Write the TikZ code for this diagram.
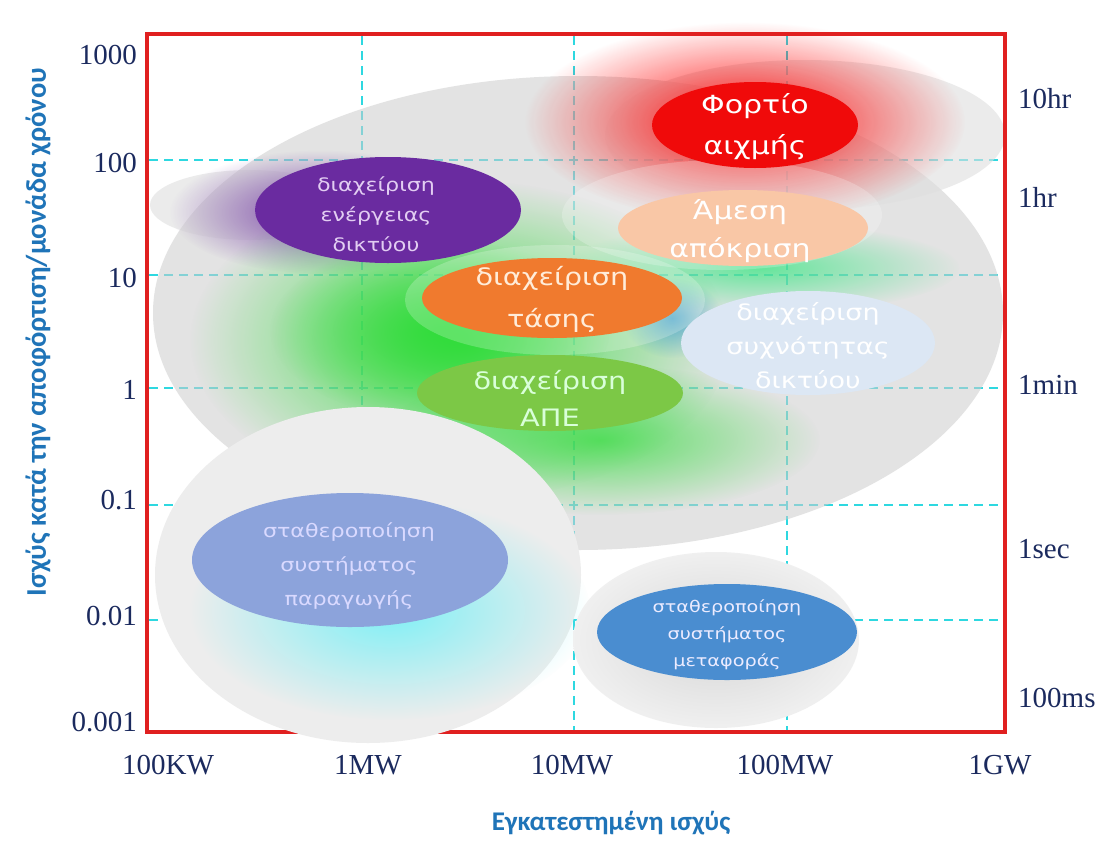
\documentclass[tikz,border=0pt]{standalone}
\usepackage{fontspec}
\setmainfont{Liberation Serif}
\newfontfamily\grfont[FakeStretch=1.2]{DejaVu Sans}
\newfontfamily\axfont{Carlito}
\usetikzlibrary{fadings}
\tikzfading[name=softglow, inner color=transparent!0, outer color=transparent!100]
\definecolor{navy}{HTML}{1B2A5E}
\definecolor{axblue}{HTML}{1F74B8}
\definecolor{gridcyan}{HTML}{2ED8E0}
\definecolor{framered}{HTML}{E02020}
\definecolor{redell}{HTML}{F00A0A}
\definecolor{purpell}{HTML}{6A2BA0}
\definecolor{peachell}{HTML}{F9C7A6}
\definecolor{orangeell}{HTML}{F07A2E}
\definecolor{lblueell}{HTML}{DCE7F4}
\definecolor{greenell}{HTML}{7CC846}
\definecolor{periell}{HTML}{8CA3DB}
\definecolor{blueell}{HTML}{4A8DD0}
\definecolor{glowgreen}{HTML}{30DC3A}
\definecolor{glowcyan}{HTML}{7FF0F6}
\definecolor{lavtext}{HTML}{E2CDF2}
\tikzset{
  gridline/.style={gridcyan, line width=2.4pt, dash pattern=on 9pt off 6pt},
  ticklab/.style={navy, font=\fontsize{29}{29}\selectfont, inner sep=0pt},
  elltext/.style={align=center, inner sep=0pt, font=\grfont},
  glow/.style={path fading=softglow},
}
\begin{document}
\begin{tikzpicture}[x=1pt,y=-1pt]
\useasboundingbox (0,0) rectangle (1102,841);
\fill[white] (0,0) rectangle (1102,841);
% grid
\foreach \yy in {160,275,388,505,620} \draw[gridline] (149,\yy) -- (1003,\yy);
\foreach \xx in {362,574,787} \draw[gridline] (\xx,36) -- (\xx,730);
% big gray ellipse
\fill[gray!40, opacity=0.55] (578,313) ellipse [x radius=425, y radius=237];
\fill[gray!25, opacity=0.6] (805,135) ellipse [x radius=200, y radius=75];
\fill[gray!30, opacity=0.5] (250,205) ellipse [x radius=100, y radius=35];
% glows
\fill[red, opacity=0.95, glow] (745,122) ellipse [x radius=220, y radius=100];
\fill[purpell, opacity=0.85, glow] (320,212) ellipse [x radius=150, y radius=62];
\fill[glowgreen, opacity=0.95, glow] (460,340) ellipse [x radius=270, y radius=160];
\fill[glowgreen, opacity=0.9, glow] (440,330) ellipse [x radius=170, y radius=90];
\fill[glowgreen, opacity=0.75, glow] (600,440) ellipse [x radius=220, y radius=75];
\fill[glowgreen!70!cyan, opacity=0.65, glow] (760,268) ellipse [x radius=200, y radius=45];
\fill[cyan!70!blue, opacity=0.6, glow] (672,318) ellipse [x radius=50, y radius=40];
% rings
\fill[white, opacity=0.22] (722,215) ellipse [x radius=160, y radius=55];
\fill[white, opacity=0.22] (555,300) ellipse [x radius=150, y radius=55];
% frame
\draw[framered, line width=3.5pt] (147,34) rectangle (1005,732);
% lower left big ellipse
\fill[gray!14] (368,575) ellipse [x radius=213, y radius=168];
\fill[glowcyan, opacity=1, glow] (390,610) ellipse [x radius=200, y radius=110];
% lower right ellipse
\shade[inner color=gray!32, outer color=gray!12] (716,640) ellipse [x radius=143, y radius=88];
% coloured ellipses
\fill[redell] (755,125) ellipse [x radius=103, y radius=43];
\fill[purpell] (388,210) ellipse [x radius=133, y radius=53];
\fill[peachell] (743,228) ellipse [x radius=125, y radius=38];
\fill[orangeell] (552,298) ellipse [x radius=130, y radius=40];
\fill[lblueell] (808,343) ellipse [x radius=127, y radius=52];
\fill[greenell] (550,393) ellipse [x radius=133, y radius=38];
\fill[periell] (350,560) ellipse [x radius=158, y radius=67];
\fill[blueell] (727,632) ellipse [x radius=130, y radius=48];
% texts in ellipses
\node[elltext, white, font=\grfont\fontsize{25}{41}\selectfont] (peak) at (755,127) {Φορτίο\\αιχμής};
\node[elltext, lavtext, font=\grfont\fontsize{18.5}{30}\selectfont] (energy) at (376,214) {διαχείριση\\ενέργειας\\δικτύου};
\node[elltext, white, font=\grfont\fontsize{25}{38}\selectfont] (resp) at (740,231) {Άμεση\\απόκριση};
\node[elltext, white!85!orange, font=\grfont\fontsize{24}{42}\selectfont] (volt) at (552,299) {διαχείριση\\τάσης};
\node[elltext, white, font=\grfont\fontsize{22.5}{34}\selectfont] (freq) at (808,346) {διαχείριση\\συχνότητας\\δικτύου};
\node[elltext, white!85!green, font=\grfont\fontsize{24}{37}\selectfont] (res) at (550,398) {διαχείριση\\ΑΠΕ};
\node[elltext, white!85!blue, font=\grfont\fontsize{18.5}{34}\selectfont] (gen) at (349,566) {σταθεροποίηση\\συστήματος\\παραγωγής};
\node[elltext, white!92!blue, font=\grfont\fontsize{16}{27}\selectfont] (trans) at (727,635) {σταθεροποίηση\\συστήματος\\μεταφοράς};
% left tick labels
\node[ticklab, anchor=east] (l1000) at (137,55) {1000};
\node[ticklab, anchor=east] (l100) at (137,163) {100};
\node[ticklab, anchor=east] (l10) at (137,278) {10};
\node[ticklab, anchor=east] (l1) at (137,390) {1};
\node[ticklab, anchor=east] (l01) at (137,500) {0.1};
\node[ticklab, anchor=east] (l001) at (137,616) {0.01};
\node[ticklab, anchor=east] (l0001) at (137,722) {0.001};
% right labels
\node[ticklab, anchor=west] (r10hr) at (1018,99) {10hr};
\node[ticklab, anchor=west] (r1hr) at (1018,197) {1hr};
\node[ticklab, anchor=west] (r1min) at (1018,385) {1min};
\node[ticklab, anchor=west] (r1sec) at (1018,549) {1sec};
\node[ticklab, anchor=west] (r100ms) at (1018,698) {100ms};
% bottom labels
\node[ticklab] (b100k) at (168,765) {100KW};
\node[ticklab] (b1m) at (368,765) {1MW};
\node[ticklab] (b10m) at (572,765) {10MW};
\node[ticklab] (b100m) at (785,765) {100MW};
\node[ticklab] (b1g) at (1000,765) {1GW};
% axis titles
\node[axblue, inner sep=0pt, font=\axfont\bfseries\fontsize{27}{27}\selectfont] (xtitle) at (611,823) {Εγκατεστημένη ισχύς};
\node[axblue, inner sep=0pt, rotate=90, font=\axfont\bfseries\fontsize{28.5}{28.5}\selectfont] (ytitle) at (38,332) {Ισχύς κατά την αποφόρτιση/μονάδα χρόνου};
\end{tikzpicture}
\end{document}
